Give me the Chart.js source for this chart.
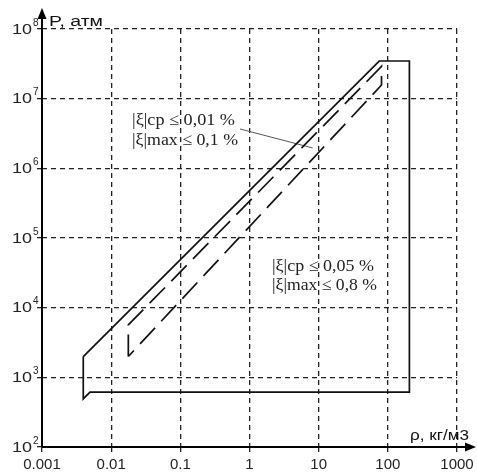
<!DOCTYPE html>
<html>
<head>
<meta charset="utf-8">
<script src="https://cdn.jsdelivr.net/npm/chart.js@4.4.1/dist/chart.umd.min.js"></script>
<style>
  html, body { margin: 0; padding: 0; background: #fff; }
  #wrap { width: 477px; height: 472px; }
</style>
</head>
<body>
<div id="wrap"><canvas id="c" width="477" height="472"></canvas></div>
<script>
// ---- data ----
const xTickValues = [0.001, 0.01, 0.1, 1, 10, 100, 1000];
const xTickLabels = ['0.001', '0.01', '0.1', '1', '10', '100', '1000'];
const yTickValues = [1e2, 1e3, 1e4, 1e5, 1e6, 1e7, 1e8];
const yTickBase = '10';
const yTickExponents = ['2', '3', '4', '5', '6', '7', '8'];

// outer region (solid)
const outlineX = [0.00395, 0.00395, 0.00494, 205, 205, 75, 0.00395];
const outlineY = [1985, 490, 612, 612, 3.47e7, 3.47e7, 1985];

// inner region (dashed)
const innerX = [0.0177, 0.0177, 81, 81, 0.0177];
const innerY = [1990, 5650, 2.9e7, 1.57e7, 1990];

// pointer from the upper annotation
const pointerX = [0.73, 8.2];
const pointerY = [3.67e6, 1.96e6];

const yAxisTitle = 'P, атм';
const xAxisTitle = 'ρ, кг/м3';
const note1 = ['|ξ|ср ≤ 0,01 %', '|ξ|max ≤ 0,1 %'];
const note2 = ['|ξ|ср ≤ 0,05 %', '|ξ|max ≤ 0,8 %'];

function pts(xs, ys) { return xs.map((v, i) => ({ x: v, y: ys[i] })); }

function fitText(ctx, txt, left, cy, font, width) {
  ctx.save();
  ctx.font = font;
  const w = ctx.measureText(txt).width;
  ctx.translate(left, cy);
  ctx.scale(width / w, 1);
  ctx.textBaseline = 'middle';
  ctx.textAlign = 'left';
  ctx.fillText(txt, 0, 0);
  ctx.restore();
}

const overlay = {
  id: 'overlay',
  afterDraw(chart) {
    const { ctx, scales: { x, y } } = chart;
    const x0 = x.getPixelForValue(xTickValues[0]);
    const y0 = y.getPixelForValue(yTickValues[0]);
    ctx.save();
    // axes with arrows
    ctx.strokeStyle = '#000';
    ctx.fillStyle = '#000';
    ctx.lineWidth = 2;
    ctx.setLineDash([]);
    ctx.beginPath();
    ctx.moveTo(x0, y0); ctx.lineTo(x0, 14);
    ctx.moveTo(x0, y0); ctx.lineTo(468, y0);
    ctx.stroke();
    ctx.beginPath();
    ctx.moveTo(x0, 8); ctx.lineTo(x0 - 4.5, 19); ctx.lineTo(x0 + 4.5, 19); ctx.closePath();
    ctx.fill();
    ctx.beginPath();
    ctx.moveTo(476, y0); ctx.lineTo(465, y0 - 4.5); ctx.lineTo(465, y0 + 4.5); ctx.closePath();
    ctx.fill();

    // x tick labels
    ctx.fillStyle = '#222';
    ctx.font = '15px "Liberation Sans", Arial, sans-serif';
    ctx.textAlign = 'center';
    ctx.textBaseline = 'alphabetic';
    xTickValues.forEach((v, i) => {
      ctx.fillText(xTickLabels[i], x.getPixelForValue(v), 469);
    });
    // y tick labels
    yTickValues.forEach((v, i) => {
      const py = y.getPixelForValue(v);
      fitText(ctx, yTickBase, 12, py + 0.5, '15px "Liberation Sans", Arial, sans-serif', 20);
      ctx.font = '10px "Liberation Sans", Arial, sans-serif';
      ctx.textAlign = 'left';
      ctx.textBaseline = 'middle';
      ctx.fillText(yTickExponents[i], 33, py - 6);
    });

    // axis titles
    ctx.fillStyle = '#111';
    fitText(ctx, yAxisTitle, 49, 22.5, '14px "Liberation Sans", Arial, sans-serif', 54);
    fitText(ctx, xAxisTitle, 410, 436.5, '14px "Liberation Sans", Arial, sans-serif', 59);

    // annotations
    ctx.fillStyle = '#222';
    const serif = '17px "Liberation Serif", "Times New Roman", serif';
    fitText(ctx, note1[0], 132, 121, serif, 103);
    fitText(ctx, note1[1], 132, 141, serif, 106);
    fitText(ctx, note2[0], 272, 267, serif, 102);
    fitText(ctx, note2[1], 272, 286, serif, 105);
    ctx.restore();
  }
};

const gridCommon = {
  color: '#222',
  lineWidth: 1.3,
  drawTicks: true,
  tickLength: 5
};

new Chart(document.getElementById('c'), {
  type: 'scatter',
  data: {
    datasets: [
      {
        data: pts(outlineX, outlineY),
        showLine: true, borderColor: '#111', borderWidth: 1.7,
        pointRadius: 0, fill: false, tension: 0
      },
      {
        data: pts(innerX, innerY),
        showLine: true, borderColor: '#111', borderWidth: 1.7, borderDash: [22, 9],
        pointRadius: 0, fill: false, tension: 0
      },
      {
        data: pts(pointerX, pointerY),
        showLine: true, borderColor: '#555', borderWidth: 1,
        pointRadius: 0, fill: false, tension: 0
      }
    ]
  },
  options: {
    responsive: false,
    animation: false,
    devicePixelRatio: 1,
    layout: { padding: { left: 37, top: 29, right: 20, bottom: 20 } },
    plugins: { legend: { display: false }, tooltip: { enabled: false } },
    scales: {
      x: {
        type: 'logarithmic',
        min: xTickValues[0], max: xTickValues[xTickValues.length - 1],
        afterBuildTicks: s => { s.ticks = xTickValues.map(v => ({ value: v })); },
        ticks: { display: false },
        grid: gridCommon,
        border: { display: false, dash: [5, 4] }
      },
      y: {
        type: 'logarithmic',
        min: yTickValues[0], max: yTickValues[yTickValues.length - 1],
        afterBuildTicks: s => { s.ticks = yTickValues.map(v => ({ value: v })); },
        ticks: { display: false },
        grid: gridCommon,
        border: { display: false, dash: [5, 4] }
      }
    }
  },
  plugins: [overlay]
});
</script>
</body>
</html>
